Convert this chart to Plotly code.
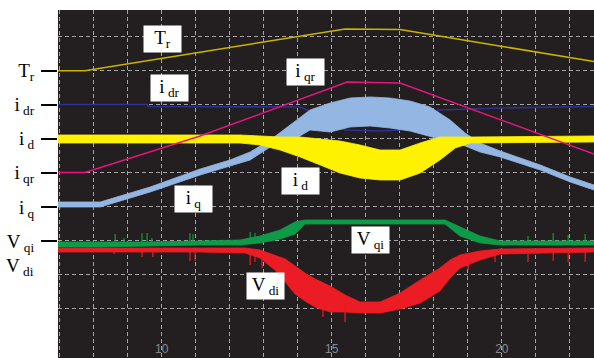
import plotly.graph_objects as go

# ---------------- data ----------------
# T_r reference torque
tr_x = [6.95, 7.74, 15.39, 17.01, 22.71]
tr_y = [9.0, 9.0, 10.23, 10.21, 9.27]

# i_dr reference
idr_x = [6.95, 9.57, 9.60, 14.07, 14.21, 14.66, 15.10, 15.39, 16.42, 17.01, 17.60, 17.95, 18.18, 19.95, 22.71]
idr_y = [8.008, 8.008, 7.950, 7.935, 7.876, 7.700, 7.406, 7.259, 7.230, 7.259, 7.553, 7.788, 7.847, 7.906, 7.950]

# i_qr reference
iqr_x = [6.95, 7.74, 11.13, 15.45, 17.01, 22.71]
iqr_y = [6.010, 6.010, 7.083, 8.670, 8.640, 6.554]

# i_q measured (upper / lower envelope)
iq_x = [6.95, 8.19, 9.66, 11.13, 12.01, 12.60, 13.19, 13.77, 14.36, 14.95, 15.54,
        16.13, 16.71, 17.30, 17.89, 18.48, 18.92, 19.36, 19.95, 21.13, 22.01, 22.71]
iq_hi = [5.143, 5.143, 5.584, 6.113, 6.378, 6.613, 6.965, 7.406, 7.847, 8.053, 8.199,
         8.229, 8.199, 8.111, 7.935, 7.553, 7.171, 6.877, 6.642, 6.231, 5.878, 5.643]
iq_lo = [4.997, 4.997, 5.437, 5.937, 6.201, 6.378, 6.760, 6.907, 7.259, 7.200, 7.347,
         7.377, 7.318, 7.230, 7.053, 6.907, 6.789, 6.613, 6.466, 6.084, 5.731, 5.496]

# i_d measured (upper / lower envelope)
id_x = [6.95, 12.30, 12.89, 13.48, 14.07, 14.66, 15.24, 15.83, 16.42, 17.01, 17.60,
        18.18, 18.63, 19.07, 22.71]
id_hi = [7.112, 7.112, 7.083, 7.053, 7.053, 6.995, 6.936, 6.818, 6.671, 6.671, 6.877,
         7.053, 7.053, 7.053, 7.083]
id_lo = [6.877, 6.877, 6.818, 6.671, 6.466, 6.231, 5.996, 5.849, 5.790, 5.790, 5.996,
         6.378, 6.730, 6.877, 6.907]

# V_qi (upper / lower envelope)
vq_x = [6.95, 8.19, 9.66, 11.13, 12.30, 12.89, 13.48, 13.92, 14.21, 18.33, 18.77, 19.36, 19.95, 22.71]
vq_hi = [3.968, 3.968, 3.968, 3.997, 4.027, 4.144, 4.321, 4.556, 4.614, 4.614, 4.409, 4.144, 3.997, 3.997]
vq_lo = [3.821, 3.821, 3.850, 3.880, 3.880, 3.939, 4.056, 4.203, 4.497, 4.497, 4.144, 3.939, 3.880, 3.880]
vq_spk_x = [8.63, 8.89, 9.42, 9.57, 9.71, 10.83, 10.92, 12.60, 12.74, 20.77, 21.51, 21.95, 22.45]
vq_spk_base = [3.909, 3.909, 3.909, 3.909, 3.909, 3.939, 3.939, 3.968, 3.997, 3.939, 3.939, 3.939, 3.939]
vq_spk_tip = [4.203, 4.086, 4.232, 4.232, 4.086, 4.232, 4.203, 4.261, 4.232, 4.144, 4.232, 4.174, 4.203]

# V_di (upper / lower envelope)
vd_x = [6.95, 11.13, 12.45, 12.89, 13.33, 13.63, 13.92, 14.21, 14.51, 14.95, 15.39,
        15.83, 16.42, 17.01, 17.60, 18.18, 18.48, 18.77, 19.36, 19.95, 22.71]
vd_hi = [3.792, 3.792, 3.792, 3.733, 3.586, 3.468, 3.263, 3.057, 2.881, 2.675, 2.411,
         2.205, 2.205, 2.469, 2.851, 3.204, 3.439, 3.586, 3.703, 3.762, 3.792]
vd_lo = [3.674, 3.674, 3.645, 3.498, 3.145, 2.793, 2.440, 2.234, 2.058, 1.911, 1.911,
         1.882, 1.882, 1.999, 2.175, 2.528, 2.910, 3.204, 3.439, 3.615, 3.674]
vd_spk_x = [8.60, 9.42, 9.74, 10.83, 10.98, 12.60, 12.74, 12.95, 14.74, 15.39, 19.01,
            19.80, 20.77, 21.51, 21.95, 22.45]
vd_spk_base = [3.733, 3.733, 3.733, 3.733, 3.733, 3.703, 3.703, 3.645, 2.264, 2.117, 3.527,
               3.674, 3.733, 3.733, 3.733, 3.733]
vd_spk_tip = [3.615, 3.527, 3.527, 3.410, 3.410, 3.292, 3.380, 3.204, 1.764, 1.617, 3.145,
              3.380, 3.380, 3.410, 3.380, 3.380]

# axis labels
x_tick_vals = [10, 15, 20]
x_tick_text = ["10", "15", "20"]
y_tick_vals = [9, 8, 7, 6, 5, 4]
y_tick_text = ["T<sub>r</sub>", "i<sub> dr</sub>", "i<sub> d</sub>", "i<sub> qr</sub>",
               "i<sub> q</sub>", "V<sub> qi</sub>"]

# ---------------- styles ----------------
C_TR = "#c9b500"
C_IDR = "#2d3190"
C_IQR = "#e5157f"
C_IQ = "#94b6e2"
C_ID = "#fff200"
C_VQ = "#0d9b48"
C_VD = "#ec1c24"
SERIF = "Liberation Serif, Times New Roman, serif"

fig = go.Figure()


def band(x, hi, lo, color):
    fig.add_trace(go.Scatter(
        x=list(x) + list(x)[::-1], y=list(hi) + list(lo)[::-1],
        mode="lines", fill="toself", fillcolor=color,
        line=dict(color=color, width=0.8), hoverinfo="skip"))


def spikes(xs, base, tip, color):
    sx, sy = [], []
    for a, b, c in zip(xs, base, tip):
        sx += [a, a, None]
        sy += [b, c, None]
    fig.add_trace(go.Scatter(x=sx, y=sy, mode="lines",
                             line=dict(color=color, width=1.2), hoverinfo="skip"))


def line(x, y, color, w=1.4):
    fig.add_trace(go.Scatter(x=x, y=y, mode="lines",
                             line=dict(color=color, width=w), hoverinfo="skip"))


line(idr_x, idr_y, C_IDR, 1.6)
band(iq_x, iq_hi, iq_lo, C_IQ)
band(id_x, id_hi, id_lo, C_ID)
line(iqr_x, iqr_y, C_IQR, 1.5)
line(tr_x, tr_y, C_TR, 1.5)
band(vq_x, vq_hi, vq_lo, C_VQ)
spikes(vq_spk_x, vq_spk_base, vq_spk_tip, C_VQ)
band(vd_x, vd_hi, vd_lo, C_VD)
spikes(vd_spk_x, vd_spk_base, vd_spk_tip, C_VD)

# in-plot labels (white boxes)
boxes = [
    ("T<sub>r</sub>", 10.01, 9.933),
    ("i<sub> dr</sub>", 10.24, 8.493),
    ("i<sub> qr</sub>", 14.24, 8.964),
    ("i<sub> q</sub>", 10.92, 5.232),
    ("i<sub> d</sub>", 14.07, 5.760),
    ("V<sub> qi</sub>", 16.13, 4.027),
    ("V<sub> di</sub>", 13.04, 2.675),
]
for txt, bx, by in boxes:
    fig.add_annotation(x=bx, y=by, xref="x", yref="y", text=txt, showarrow=False,
                       bgcolor="white", width=37, height=26, borderpad=0,
                       font=dict(family=SERIF, size=19, color="black"))

# V_di side label (no tick)
fig.add_annotation(x=-0.041, y=3.22, xref="paper", yref="y", text="V<sub> di</sub>",
                   showarrow=False, xanchor="right",
                   font=dict(family=SERIF, size=19, color="black"))

GRID = "#a5a5a5"
fig.update_xaxes(range=[6.95, 22.71], tickvals=x_tick_vals, ticktext=x_tick_text,
                 ticks="", ticklabelposition="inside", showline=False, zeroline=False,
                 automargin=False,
                 tickfont=dict(family="Liberation Sans, Arial, sans-serif", size=12, color="#8a8a8a"),
                 showgrid=True, gridcolor=GRID, gridwidth=1, griddash="4px,3px",
                 minor=dict(dtick=1, tick0=0, showgrid=True, gridcolor=GRID, gridwidth=1,
                            griddash="4px,3px", ticks=""))
fig.update_yaxes(range=[0.559, 10.785], tickvals=y_tick_vals, ticktext=y_tick_text,
                 ticks="outside", ticklen=16, tickwidth=2, tickcolor="black",
                 ticklabelstandoff=3, showline=False, zeroline=False,
                 automargin=False,
                 tickfont=dict(family=SERIF, size=19, color="black"),
                 showgrid=True, gridcolor=GRID, gridwidth=1, griddash="4px,3px",
                 minor=dict(dtick=1, tick0=0, showgrid=True, gridcolor=GRID, gridwidth=1,
                            griddash="4px,3px", ticks=""))

fig.update_layout(width=594, height=358, margin=dict(l=58, r=0, t=10, b=0, autoexpand=False),
                  plot_bgcolor="#231f20", paper_bgcolor="white", showlegend=False,
                  hovermode=False)

fig.write_html("out.html", config={"displayModeBar": False},
               post_script="document.body.style.margin='0';document.body.style.overflow='hidden';")
